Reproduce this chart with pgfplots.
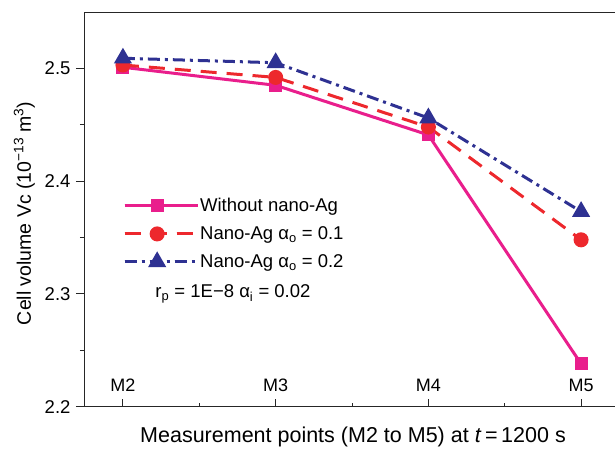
\documentclass[border=0pt]{standalone}
\usepackage{fontspec}
\setmainfont{Liberation Sans}
\usepackage{pgfplots}
\pgfplotsset{compat=1.18}
\definecolor{cmag}{RGB}{233,30,140}
\definecolor{cred}{RGB}{237,40,45}
\definecolor{cblue}{RGB}{46,49,146}
\begin{document}
\begin{tikzpicture}[x=1pt,y=1pt]
\useasboundingbox (0,0) rectangle (615,448);
\begin{axis}[
  at={(84pt,41.3pt)}, anchor=south west,
  scale only axis, width=531pt, height=394.7pt,
  xmin=-0.255, xmax=3.222, ymin=2.2, ymax=2.55,
  axis lines*=left,
  axis line style={line width=1pt, black!85},
  xtick={0,1,2,3}, xticklabels={M2,M3,M4,M5},
  ytick={2.2,2.3,2.4,2.5},
  minor x tick num=1, minor y tick num=1,
  xtick align=inside, ytick align=outside,
  major tick length=8pt, minor tick length=4pt,
  tick style={line width=1pt, black!85},
  /pgf/number format/assume math mode=true,
  yticklabel style={/pgf/number format/fixed,/pgf/number format/precision=1,/pgf/number format/fixed zerofill, font=\fontsize{18.5}{22}\selectfont, xshift=-2pt},
  xticklabel style={anchor=base, yshift=15pt, font=\fontsize{18}{22}\selectfont},
  xlabel={Measurement points (M2 to M5) at \textit{t}\,=\,1200 s},
  xlabel style={at={(axis description cs:0.5066,0)}, anchor=base, yshift=-36pt, font=\fontsize{21.5}{25}\selectfont},
  ylabel={Cell volume Vc (10\textsuperscript{−13} m\textsuperscript{3})},
  ylabel style={at={(axis description cs:0,0.49)}, anchor=base, yshift=53pt, font=\fontsize{19.5}{23}\selectfont},
  legend style={draw=none, fill=none, at={(axis description cs:0.0734,0.531)}, anchor=north west,
    font=\fontsize{18.5}{22}\selectfont, row sep=11.5pt, inner sep=0pt,
    nodes={inner sep=1pt}},
  legend cell align=left,
  legend image code/.code={\path (0pt,0pt) -- (73pt,0pt);\draw[mark repeat=2,mark phase=2,#1,line width=3pt] plot coordinates {(0pt,0pt) (32.5pt,0pt) (65pt,0pt)};},
]
\addplot[cmag, line width=3pt, mark=square*, mark size=5pt, mark options={solid}]
  coordinates {(0,2.501) (1,2.485) (2,2.441) (3,2.238)};
\addlegendentry{Without nano-Ag}
\addplot[cred, line width=3pt, dash pattern=on 16pt off 10pt, mark=*, mark size=6pt, mark options={solid}]
  coordinates {(0,2.503) (1,2.492) (2,2.448) (3,2.348)};
\addlegendentry{Nano-Ag α\textsubscript{o} = 0.1}
\addplot[cblue, line width=3pt, dash pattern=on 12pt off 5pt on 3pt off 5pt, mark=triangle*, mark size=7.5pt, mark options={solid}]
  coordinates {(0,2.509) (1,2.505) (2,2.456) (3,2.373)};
\addlegendentry{Nano-Ag α\textsubscript{o} = 0.2}
\node[anchor=base west, font=\fontsize{18.5}{22}\selectfont] at (axis cs:0.19,2.2964) {r\textsubscript{p} = 1E−8 α\textsubscript{i} = 0.02};
\draw[line width=1pt, black!85] (rel axis cs:0,1) -- (rel axis cs:1,1);
\end{axis}
\end{tikzpicture}
\end{document}
